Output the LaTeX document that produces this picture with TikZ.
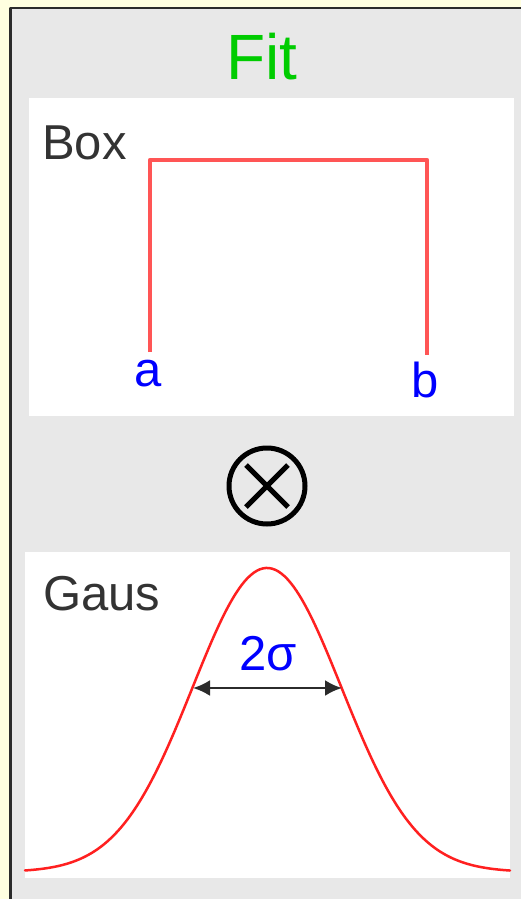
\documentclass[tikz,border=0pt]{standalone}
\usepackage{fontspec}
\setmainfont{Liberation Sans}
\usetikzlibrary{arrows.meta}

\definecolor{cream}{HTML}{FFFFE0}
\definecolor{panelgray}{HTML}{E8E8E8}
\definecolor{frameline}{HTML}{2B2B2B}
\definecolor{textgray}{HTML}{333333}
\definecolor{fitgreen}{HTML}{00CC00}
\definecolor{boxred}{HTML}{FF5555}
\definecolor{gausred}{HTML}{FF2020}

\begin{document}
\begin{tikzpicture}[x=1pt, y=-1pt, line cap=round, line join=round,
  lbl/.style={font=\fontsize{49}{55}\selectfont, inner sep=0pt, anchor=base}]

% Khung nen
\useasboundingbox (0,0) rectangle (521,899);
\fill[cream] (0,0) rectangle (521,899);
\fill[panelgray] (10.5,8) rectangle (540,920);
\draw[frameline, line width=2.5pt, line cap=butt] (10.5,920) -- (10.5,8) -- (540,8);

% Tieu de
\node[lbl, text=fitgreen, font=\fontsize{64}{70}\selectfont] (fit) at (262,80) {Fit};

% Hop tren: ham Box
\fill[white] (29,98) rectangle (514,416);
\node[lbl, anchor=base west, text=textgray] (box) at (42,159) {Box};
\coordinate (A) at (150,352);
\coordinate (B) at (427,355);
\draw[boxred, line width=4.5pt, line cap=butt] (A) -- (150,160) -- (427,160) -- (B);
\node[lbl, text=blue] (a) at (148,386) {a};
\node[lbl, text=blue] (b) at (425,397) {b};

% Ky hieu tich chap
\coordinate (O) at (267,486);
\draw[line width=5pt] (O) circle (38);
\draw[line width=5pt, line cap=butt] (O) ++(-21,-21) -- ++(42,42);
\draw[line width=5pt, line cap=butt] (O) ++(21,-21) -- ++(-42,42);

% Hop duoi: ham Gauss
\fill[white] (25,552) rectangle (510,878);
\node[lbl, anchor=base west, text=textgray] (gaus) at (43,610) {Gaus};
\draw[gausred, line width=2.5pt] plot[domain=25:510, samples=160, smooth]
  ({\x}, {872-304*exp(-0.5*((\x-267)/74.5)^2)});

% Do rong 2 sigma
\coordinate (L) at (193,688);
\coordinate (R) at (342,688);
\draw[{Latex[length=17pt,width=16pt]}-{Latex[length=17pt,width=16pt]}, frameline, line width=2.5pt] (L) -- (R);
\node[lbl, text=blue] (sig) at (268,670) {2σ};

\end{tikzpicture}
\end{document}
